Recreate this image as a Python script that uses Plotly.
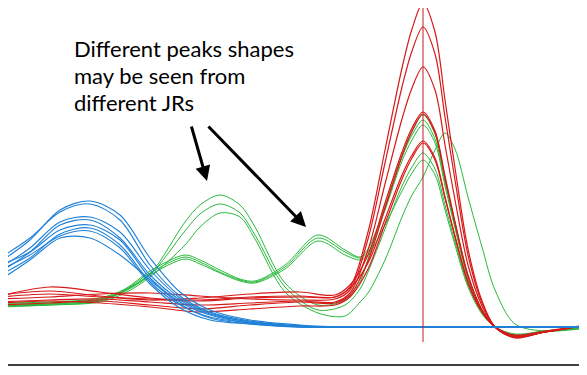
import plotly.graph_objects as go

# ---- data (x = time sample, y = signal amplitude) ----
blue_x = [0, 30, 60, 90, 120, 150, 180, 210, 250, 300, 350, 587]
blue_1 = [65, 87, 117, 126, 112, 69, 35, 17, 7, 2, 0, 0]
blue_2 = [69, 89, 115, 123, 107, 62, 31, 15, 6, 1, 0, 0]
blue_3 = [59, 79, 105, 110, 95, 57, 29, 14, 5, 1, 0, 0]
blue_4 = [55, 75, 102, 107, 89, 52, 27, 13, 5, 1, 0, 0]
blue_5 = [62, 75, 97, 102, 87, 49, 25, 12, 4, 1, 0, 0]
blue_6 = [52, 69, 93, 99, 82, 45, 22, 10, 4, 0, 0, 0]
blue_7 = [47, 67, 89, 89, 72, 47, 23, 9, 3, 0, 0, 0]
blue_8 = [57, 72, 91, 96, 79, 43, 19, 7, 3, 0, 0, 0]

green_x = [0, 50, 100, 125, 150, 185, 200, 220, 240, 255, 285, 318, 345, 360,
           368, 385, 402, 412, 423, 435, 445, 455, 468, 482, 495, 515, 545, 587]
green_1 = [24, 24, 28, 37, 53, 105, 122, 132, 122, 100, 44, 22, 27, 45,
           68, 120, 171, 195, 212, 193, 148, 104, 51, 17, 0, -9, -4, -1]
green_2 = [22, 23, 27, 36, 52, 96, 113, 123, 114, 92, 40, 17, 22, 38,
           55, 98, 141, 160, 174, 158, 122, 85, 42, 14, 0, -8, -4, -1]
green_3 = [21, 22, 25, 34, 50, 82, 100, 114, 110, 88, 35, 14, 11, 25,
           34, 67, 110, 132, 150, 177, 194, 178, 130, 80, 37, 3, -4, -1]
green_4 = [24, 25, 29, 38, 56, 72, 67, 57, 48, 46, 62, 92, 77, 70,
           78, 120, 170, 192, 207, 188, 145, 101, 50, 17, 0, -9, -5, -1]
green_5 = [21, 23, 27, 37, 54, 70, 65, 55, 47, 45, 60, 89, 75, 69,
           75, 117, 166, 187, 202, 184, 141, 99, 48, 16, 0, -8, -4, -1]
green_6 = [20, 22, 26, 36, 52, 68, 63, 54, 46, 44, 58, 86, 72, 67,
           72, 102, 136, 154, 167, 152, 117, 82, 40, 13, 0, -7, -4, -1]

red_x = [0, 50, 100, 150, 200, 250, 300, 335, 350, 368, 385, 402, 412, 423,
         435, 445, 455, 468, 482, 495, 515, 545, 587]
red_1 = [31, 40, 35, 29, 27, 30, 31, 30, 40, 95, 177, 259, 298, 324,
         295, 227, 159, 78, 26, 0, -10, -5, 2]
red_2 = [28, 30, 33, 34, 31, 28, 27, 28, 37, 88, 164, 240, 276, 300,
         273, 210, 147, 72, 24, 0, -11, -5, 2]
red_3 = [25, 27, 28, 25, 22, 24, 26, 25, 34, 77, 143, 208, 239, 260,
         237, 182, 127, 62, 21, 0, -10, -5, 2]
red_4 = [32, 36, 31, 27, 29, 33, 35, 32, 42, 72, 124, 175, 199, 215,
         196, 151, 105, 52, 17, 0, -9, -5, 2]
red_5 = [22, 24, 26, 22, 18, 22, 25, 24, 32, 66, 119, 171, 196, 213,
         194, 149, 104, 51, 17, 0, -10, -5, 2]
red_6 = [30, 33, 30, 28, 26, 29, 30, 30, 39, 64, 108, 152, 172, 186,
         169, 130, 91, 45, 15, 0, -9, -5, 2]
red_7 = [24, 26, 24, 20, 15, 18, 21, 22, 30, 58, 103, 148, 169, 184,
         167, 129, 90, 44, 15, 0, -8, -4, 2]

note_lines = ["Different peaks shapes", "may be seen from", "different JRs"]
marker_x = 423          # vertical reference line position
floor_y = -38           # bottom black line level

BLUE = "rgb(30,128,215)"
GREEN = "rgb(40,185,60)"
RED = "rgb(215,25,25)"

# the page body has an 8px margin; compensate so data lands at page pixels
PAD = 8
W, H = 587, 375

fig = go.Figure()

for ys in [green_1, green_2, green_3, green_4, green_5, green_6]:
    fig.add_trace(go.Scatter(x=green_x, y=ys, mode="lines",
                             line=dict(color=GREEN, width=1, shape="spline", smoothing=0.9),
                             hoverinfo="skip"))
for ys in [red_1, red_2, red_3, red_4, red_5, red_6, red_7]:
    fig.add_trace(go.Scatter(x=red_x, y=ys, mode="lines",
                             line=dict(color=RED, width=1.2, shape="spline", smoothing=0.9),
                             hoverinfo="skip"))
for ys in [blue_1, blue_2, blue_3, blue_4, blue_5, blue_6, blue_7, blue_8]:
    fig.add_trace(go.Scatter(x=blue_x, y=ys, mode="lines",
                             line=dict(color=BLUE, width=1.1, shape="spline", smoothing=0.9),
                             hoverinfo="skip"))

# vertical marker and floor line
fig.add_shape(type="line", x0=marker_x, x1=marker_x, y0=-15, y1=330,
              line=dict(color="rgb(190,30,30)", width=1), layer="above")
fig.add_shape(type="line", x0=0, x1=W, y0=floor_y, y1=floor_y,
              line=dict(color="black", width=1.5))

for i, t in enumerate(note_lines):
    fig.add_annotation(x=72, y=279 - 27 * i, text=t, showarrow=False,
                       xanchor="left", yanchor="middle",
                       font=dict(family="Lato", size=22, color="black"))

# arrows
fig.add_annotation(x=207, y=146, ax=-16, ay=-56, text="", showarrow=True,
                   arrowhead=2, arrowsize=1, arrowwidth=3, arrowcolor="black")
fig.add_annotation(x=306, y=100, ax=-99, ay=-102, text="", showarrow=True,
                   arrowhead=2, arrowsize=1, arrowwidth=3, arrowcolor="black")

fig.update_layout(width=W - PAD, height=H - PAD, margin=dict(l=0, r=0, t=0, b=0),
                  paper_bgcolor="white", plot_bgcolor="white", showlegend=False,
                  xaxis=dict(range=[PAD, W], visible=False),
                  yaxis=dict(range=[-48, 327 - PAD], visible=False))

fig.write_html("out.html")
